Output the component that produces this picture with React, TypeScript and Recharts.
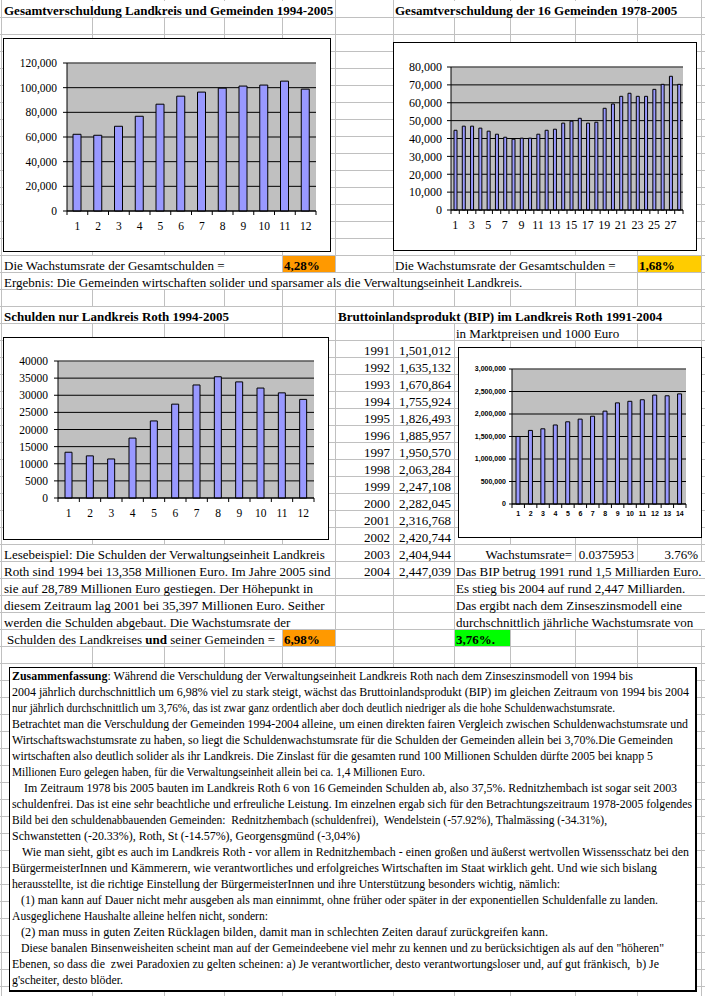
import React from 'react';
import { BarChart, Bar, XAxis, YAxis, CartesianGrid, ReferenceLine } from 'recharts';

const SERIF = '"Liberation Serif", "Times New Roman", serif';
const SANS = '"Liberation Sans", Arial, sans-serif';
const GRID = '#c0c0c0';
const ROW = 17;

// Gesamtverschuldung Landkreis und Gemeinden 1994-2005 (1 = 1994)
const totalCats = ['1', '2', '3', '4', '5', '6', '7', '8', '9', '10', '11', '12'];
const totalDebt = [62200, 61400, 68700, 76800, 86600, 93100, 96400, 99600, 101300, 102100, 105300, 98800];
const totalTicks = [0, 20000, 40000, 60000, 80000, 100000, 120000];

// Gesamtverschuldung der 16 Gemeinden 1978-2005 (1 = 1978)
const gemCats = ['1', '2', '3', '4', '5', '6', '7', '8', '9', '10', '11', '12', '13', '14',
  '15', '16', '17', '18', '19', '20', '21', '22', '23', '24', '25', '26', '27', '28'];
const gemDebt = [44600, 46900, 46900, 45800, 44100, 42400, 40700, 39600, 40200, 40200, 42400, 44600, 45200, 48600,
  49700, 51300, 48600, 49100, 56900, 59300, 63600, 65300, 63600, 63600, 67500, 70300, 74800, 70300];
const gemTicks = [0, 10000, 20000, 30000, 40000, 50000, 60000, 70000, 80000];

// Schulden nur Landkreis Roth 1994-2005
const lkCats = ['1', '2', '3', '4', '5', '6', '7', '8', '9', '10', '11', '12'];
const lkDebt = [13358, 12300, 11400, 17500, 22500, 27400, 33000, 35397, 33900, 32100, 30700, 28789];
const lkTicks = [0, 5000, 10000, 15000, 20000, 25000, 30000, 35000, 40000];

// BIP im Landkreis Roth 1991-2004, in 1000 Euro
const bipYears = ['1991', '1992', '1993', '1994', '1995', '1996', '1997', '1998', '1999', '2000', '2001', '2002', '2003', '2004'];
const bipValues = [1501012, 1635132, 1670864, 1755924, 1826493, 1885957, 1950570, 2063284, 2247108, 2282045, 2316768, 2420744, 2404944, 2447039];
const bipCats = ['1', '2', '3', '4', '5', '6', '7', '8', '9', '10', '11', '12', '13', '14'];
const bipTicks = [0, 500000, 1000000, 1500000, 2000000, 2500000, 3000000];

const colLines = [1, 92, 164, 224, 282, 335, 393, 454, 510, 575, 637, 701];

const summaryLines = [
  'Zusammenfassung: Während die Verschuldung der Verwaltungseinheit Landkreis Roth nach dem Zinseszinsmodell von 1994 bis',
  '2004 jährlich durchschnittlich um 6,98% viel zu stark steigt, wächst das Bruttoinlandsprodukt (BIP) im gleichen Zeitraum von 1994 bis 2004',
  'nur jährlich durchschnittlich um 3,76%, das ist zwar ganz ordentlich aber doch deutlich niedriger als die hohe Schuldenwachstumsrate.',
  'Betrachtet man die Verschuldung der Gemeinden 1994-2004 alleine, um einen direkten fairen Vergleich zwischen Schuldenwachstumsrate und',
  'Wirtschaftswachstumsrate zu haben, so liegt die Schuldenwachstumsrate für die Schulden der Gemeinden allein bei 3,70%.Die Gemeinden',
  'wirtschaften also deutlich solider als ihr Landkreis. Die Zinslast für die gesamten rund 100 Millionen Schulden dürfte 2005 bei knapp 5',
  'Millionen Euro gelegen haben, für die Verwaltungseinheit allein bei ca. 1,4 Millionen Euro.',
  'Im Zeitraum 1978 bis 2005 bauten im Landkreis Roth 6 von 16 Gemeinden Schulden ab, also 37,5%. Rednitzhembach ist sogar seit 2003',
  'schuldenfrei. Das ist eine sehr beachtliche und erfreuliche Leistung. Im einzelnen ergab sich für den Betrachtungszeitraum 1978-2005 folgendes',
  'Bild bei den schuldenabbauenden Gemeinden:  Rednitzhembach (schuldenfrei),  Wendelstein (-57.92%), Thalmässing (-34.31%),',
  'Schwanstetten (-20.33%), Roth, St (-14.57%), Georgensgmünd (-3,04%)',
  'Wie man sieht, gibt es auch im Landkreis Roth - vor allem in Rednitzhembach - einen großen und äußerst wertvollen Wissensschatz bei den',
  'BürgermeisterInnen und Kämmerern, wie verantwortliches und erfolgreiches Wirtschaften im Staat wirklich geht. Und wie sich bislang',
  'herausstellte, ist die richtige Einstellung der BürgermeisterInnen und ihre Unterstützung besonders wichtig, nämlich:',
  '(1) man kann auf Dauer nicht mehr ausgeben als man einnimmt, ohne früher oder später in der exponentiellen Schuldenfalle zu landen.',
  'Ausgeglichene Haushalte alleine helfen nicht, sondern:',
  '(2) man muss in guten Zeiten Rücklagen bilden, damit man in schlechten Zeiten darauf zurückgreifen kann.',
  'Diese banalen Binsenweisheiten scheint man auf der Gemeindeebene viel mehr zu kennen und zu berücksichtigen als auf den "höheren"',
  'Ebenen, so dass die  zwei Paradoxien zu gelten scheinen: a) Je verantwortlicher, desto verantwortungsloser und, auf gut fränkisch,  b) Je',
  "g'scheiter, desto blöder.",
];
const summaryStart = [12, 12, 12, 12, 12, 12, 12, 24, 12, 12, 12, 22, 12, 12, 21, 12, 21, 21, 12, 12];
const summaryEnd = [633, 689, 615, 688, 673, 653, 425, 677, 692, 607, 360, 689, 657, 560, 658, 268, 548, 664, 659, 123];

type Font = { size: number; family: string; weight?: string };

function XTick(props: any) {
  const { x, payload, index, axisY, step, count, dy, font, every } = props;
  const i = payload && payload.index != null ? payload.index : index;
  return (
    <g>
      <line x1={x - step / 2} y1={axisY} x2={x - step / 2} y2={axisY + 4} stroke="#000" />
      {i === count - 1 && <line x1={x + step / 2} y1={axisY} x2={x + step / 2} y2={axisY + 4} stroke="#000" />}
      {i % every === 0 && (
        <text x={x} y={axisY + dy} textAnchor="middle" fill="#000"
          fontSize={font.size} fontFamily={font.family} fontWeight={font.weight || 'normal'}>
          {payload.value}
        </text>
      )}
    </g>
  );
}

function ExcelBars(props: {
  box: { left: number; top: number; width: number; height: number };
  plot: { left: number; top: number; right: number; bottom: number };
  cats: string[]; values: number[]; ticks: number[];
  barSize: number; font: Font; labelDy: number; yGap: number; tickLen?: number;
  every?: number; fmt?: (v: number) => string;
}) {
  const { box, plot, cats, values, ticks, barSize, font, labelDy, yGap } = props;
  const tickLen = props.tickLen ?? 4;
  const every = props.every ?? 1;
  const data = cats.map((name, i) => ({ name, v: values[i] }));
  const step = (plot.right - plot.left) / cats.length;
  const max = ticks[ticks.length - 1];
  return (
    <div style={{
      position: 'absolute', left: box.left, top: box.top, width: box.width, height: box.height,
      background: '#fff', boxSizing: 'border-box', border: '1px solid #000',
    }}>
      <div style={{ position: 'absolute', left: -1, top: -1 }}>
        <BarChart width={box.width} height={box.height} data={data}
          margin={{ top: plot.top, right: box.width - plot.right, bottom: 0, left: 0 }}>
          <CartesianGrid vertical={false} stroke="#000" fill="#c0c0c0" fillOpacity={1} />
          <ReferenceLine y={max} stroke="#808080" />
          <XAxis dataKey="name" height={box.height - plot.bottom} interval={0} tickLine={false}
            tickSize={0} tickMargin={0} axisLine={{ stroke: '#000' }}
            tick={(p: any) => (
              <XTick {...p} axisY={plot.bottom} step={step} count={cats.length} dy={labelDy} font={font} every={every} />
            )} />
          <YAxis width={plot.left} domain={[0, max]} ticks={ticks} interval={0}
            tickSize={tickLen} tickMargin={yGap} tickLine={{ stroke: '#000' }} axisLine={{ stroke: '#000' }}
            tick={{ fill: '#000', fontSize: font.size, fontFamily: font.family, fontWeight: font.weight || 'normal' }}
            tickFormatter={props.fmt} />
          <YAxis yAxisId="r" orientation="right" width={0} tick={false} tickLine={false} axisLine={{ stroke: '#808080' }} />
          <Bar dataKey="v" fill="#9999ff" stroke="#000" strokeWidth={1} barSize={barSize} isAnimationActive={false} />
        </BarChart>
      </div>
    </div>
  );
}

function Cell(props: {
  x1: number; x2: number; row: number; bg?: string; tx?: number; rx?: number; bold?: boolean;
  children?: React.ReactNode;
}) {
  const { x1, x2, row, bg = '#fff', tx, rx, bold } = props;
  const pos = rx != null ? { right: x2 - rx } : { left: (tx ?? x1 + 3) - x1 - 1 };
  return (
    <div style={{ position: 'absolute', left: x1 + 1, top: row * ROW + 1, width: x2 - x1 - 1, height: ROW - 1, background: bg }}>
      <div style={{
        position: 'absolute', top: 0.5, ...pos, whiteSpace: 'pre', lineHeight: '17px',
        fontFamily: SERIF, fontSize: 13, fontWeight: bold ? 'bold' : 'normal', color: '#000',
      }}>
        {props.children}
      </div>
    </div>
  );
}

const comma = (v: number) => v.toLocaleString('en-US');

export default function App() {
  const rows = Array.from({ length: 59 }, (_, i) => i + 1);
  const leftText = [
    'Lesebeispiel: Die Schulden der Verwaltungseinheit Landkreis',
    'Roth sind 1994 bei 13,358 Millionen Euro. Im Jahre 2005 sind',
    'sie auf 28,789 Millionen Euro gestiegen. Der Höhepunkt in',
    'diesem Zeitraum lag 2001 bei 35,397 Millionen Euro. Seither',
    'werden die Schulden abgebaut. Die Wachstumsrate der',
  ];
  const bipText = [
    'Das BIP betrug 1991 rund 1,5 Milliarden Euro.',
    'Es stieg bis 2004 auf rund 2,447 Milliarden.',
    'Das ergibt nach dem Zinseszinsmodell eine',
    'durchschnittlich jährliche Wachstumsrate von',
  ];
  return (
    <div style={{ position: 'absolute', left: 0, top: 0, width: 705, height: 996, background: '#fff', overflow: 'hidden' }}>
      {/* spreadsheet grid */}
      {rows.map((r) => (
        <div key={'h' + r} style={{ position: 'absolute', left: 0, top: r * ROW, width: 705, height: 1, background: GRID }} />
      ))}
      {colLines.map((x) => (
        <div key={'v' + x} style={{ position: 'absolute', left: x, top: 0, width: 1, height: 996, background: GRID }} />
      ))}

      {/* top row */}
      <Cell x1={1} x2={335} row={0} tx={4} bold>Gesamtverschuldung Landkreis und Gemeinden 1994-2005</Cell>
      <Cell x1={393} x2={701} row={0} tx={395} bold>Gesamtverschuldung der 16 Gemeinden 1978-2005</Cell>

      <ExcelBars box={{ left: 3, top: 38, width: 328, height: 214 }}
        plot={{ left: 64, top: 25, right: 313, bottom: 173 }}
        cats={totalCats} values={totalDebt} ticks={totalTicks} barSize={8}
        font={{ size: 11.5, family: SERIF }} labelDy={19} yGap={6} fmt={comma} />

      <ExcelBars box={{ left: 393, top: 42, width: 304, height: 209 }}
        plot={{ left: 58, top: 25, right: 290, bottom: 168 }}
        cats={gemCats} values={gemDebt} ticks={gemTicks} barSize={3} every={2}
        font={{ size: 12, family: SERIF }} labelDy={19} yGap={5} fmt={comma} />

      <Cell x1={1} x2={282} row={15} tx={4}>Die Wachstumsrate der Gesamtschulden =</Cell>
      <Cell x1={282} x2={335} row={15} tx={284} bg="#ff9900" bold>4,28%</Cell>
      <Cell x1={393} x2={637} row={15} tx={395}>Die Wachstumsrate der Gesamtschulden =</Cell>
      <Cell x1={637} x2={701} row={15} tx={639} bg="#ffcc00" bold>1,68%</Cell>
      <Cell x1={1} x2={575} row={16} tx={4}>Ergebnis: Die Gemeinden wirtschaften solider und sparsamer als die Verwaltungseinheit Landkreis.</Cell>

      {/* second block */}
      <Cell x1={1} x2={282} row={18} tx={4} bold>Schulden nur Landkreis Roth 1994-2005</Cell>
      <Cell x1={335} x2={701} row={18} tx={338} bold>Bruttoinlandsprodukt (BIP) im Landkreis Roth 1991-2004</Cell>
      <Cell x1={454} x2={637} row={19} tx={456}>in Marktpreisen und 1000 Euro</Cell>

      {bipYears.map((y, i) => (
        <React.Fragment key={y}>
          <Cell x1={335} x2={393} row={20 + i} rx={390}>{y}</Cell>
          <Cell x1={393} x2={454} row={20 + i} rx={451}>{comma(bipValues[i])}</Cell>
        </React.Fragment>
      ))}

      <ExcelBars box={{ left: 3, top: 337, width: 326, height: 203 }}
        plot={{ left: 55, top: 24, right: 311, bottom: 161 }}
        cats={lkCats} values={lkDebt} ticks={lkTicks} barSize={7}
        font={{ size: 11.5, family: SERIF }} labelDy={19} yGap={6} />

      <ExcelBars box={{ left: 458, top: 347, width: 244, height: 191 }}
        plot={{ left: 54, top: 22, right: 228, bottom: 157 }}
        cats={bipCats} values={bipValues} ticks={bipTicks} barSize={4} tickLen={3}
        font={{ size: 7, family: SANS, weight: 'bold' }} labelDy={12} yGap={3} fmt={comma} />

      {leftText.map((t, i) => (
        <Cell key={t} x1={1} x2={335} row={32 + i} tx={4}>{t}</Cell>
      ))}
      <Cell x1={454} x2={575} row={32} rx={572}>Wachstumsrate=</Cell>
      <Cell x1={575} x2={637} row={32} rx={634}>0.0375953</Cell>
      <Cell x1={637} x2={701} row={32} rx={698}>3.76%</Cell>
      {bipText.map((t, i) => (
        <Cell key={t} x1={454} x2={705} row={33 + i} tx={456}>{t}</Cell>
      ))}
      <Cell x1={1} x2={282} row={37} tx={7}>Schulden des Landkreises <b>und</b> seiner Gemeinden =</Cell>
      <Cell x1={282} x2={335} row={37} tx={284} bg="#ff9900" bold>6,98%</Cell>
      <Cell x1={454} x2={510} row={37} tx={456} bg="#00ff00" bold>3,76%.</Cell>

      {/* summary text box */}
      <div style={{
        position: 'absolute', left: 9, top: 667, width: 688, height: 325, boxSizing: 'border-box',
        background: '#fff', borderLeft: '1px solid #000', borderTop: '1px solid #000',
        borderRight: '2px solid #000', borderBottom: '2px solid #000',
      }} />
      <svg width={705} height={996} style={{ position: 'absolute', left: 0, top: 0 }}>
        {summaryLines.map((t, i) => {
          const first = i === 0;
          return (
            <text key={i} x={0} y={0} transform={`translate(${summaryStart[i]},${680 + i * 16}) scale(1,1.18)`}
              textLength={summaryEnd[i] - summaryStart[i]}
              lengthAdjust="spacingAndGlyphs" fontFamily={SERIF} fontSize={11} fill="#000"
              style={{ whiteSpace: 'pre' }}>
              {first ? (
                <>
                  <tspan fontWeight="bold">Zusammenfassung</tspan>
                  {t.slice('Zusammenfassung'.length)}
                </>
              ) : t}
            </text>
          );
        })}
      </svg>
    </div>
  );
}
